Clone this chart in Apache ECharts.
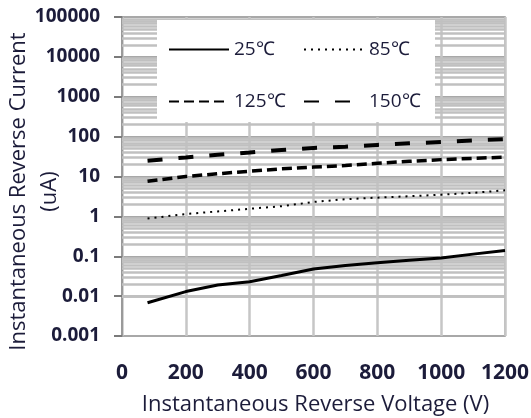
<!DOCTYPE html>
<html>
<head>
<meta charset="utf-8">
<script src="https://cdn.jsdelivr.net/npm/echarts@6/dist/echarts.min.js"></script>
<style>html,body{margin:0;padding:0;background:#fff}#c{width:531px;height:418px}</style>
</head>
<body>
<div id="c"></div>
<script>
const voltages = [80, 200, 300, 400, 500, 600, 700, 800, 900, 1000, 1100, 1200];
const current25 = [0.0068, 0.013, 0.019, 0.023, 0.033, 0.048, 0.059, 0.069, 0.079, 0.090, 0.113, 0.14];
const current85 = [0.88, 1.15, 1.33, 1.55, 1.8, 2.3, 2.7, 2.95, 3.2, 3.5, 3.9, 4.5];
const current125 = [7.6, 10, 11.7, 13.6, 15.6, 17.2, 18.8, 21.5, 24, 26.5, 28.5, 30.5];
const current150 = [25, 30, 35, 40, 46, 52, 56, 62, 68, 73, 80, 87];
const seriesNames = ['25℃', '85℃', '125℃', '150℃'];
const yTickLabels = ['0.001', '0.01', '0.1', '1', '10', '100', '1000', '10000', '100000'];
const xTickLabels = ['0', '200', '400', '600', '800', '1000', '1200'];

// minor log gridlines (2..9 within each decade)
const minorGrid = [];
for (let d = -3; d <= 4; d++) {
  for (let k = 2; k <= 9; k++) minorGrid.push(Number((k * Math.pow(10, d)).toPrecision(3)));
}

const txt = '#1c1c3a';
const font = 'Open Sans';
const pair = arr => voltages.map((v, i) => [v, arr[i]]);
const legendCommon = { orient: 'vertical', top: 38, itemWidth: 60, itemHeight: 14, itemGap: 33, padding: 2,
  itemStyle: { opacity: 0 }, textStyle: { fontFamily: font, fontSize: 19, color: txt } };
const chart = echarts.init(document.getElementById('c'));
chart.setOption({
  animation: false,
  backgroundColor: '#fff',
  grid: { left: 122, right: 26, top: 17, bottom: 82, show: true, borderColor: '#bdbdbd', borderWidth: 2, backgroundColor: '#fff', outerBoundsMode: 'none', containLabel: false },
  graphic: { z: 3, elements: [{ type: 'rect', z: 3, shape: { x: 157, y: 20, width: 278, height: 102 }, style: { fill: '#fff' } }] },
  legend: [
    Object.assign({ data: [seriesNames[0], seriesNames[2]], left: 166 }, legendCommon),
    Object.assign({ data: [seriesNames[1], seriesNames[3]], left: 301 }, legendCommon)
  ],
  xAxis: {
    type: 'value', min: 0, max: 1200, interval: 200,
    name: 'Instantaneous Reverse Voltage (V)', nameLocation: 'middle', nameGap: 58, nameMoveOverlap: false,
    nameTextStyle: { fontFamily: font, fontSize: 22, color: txt, padding: [0, 0, 0, 4] },
    axisLine: { show: false }, axisTick: { show: false },
    axisLabel: { margin: 27, fontFamily: font, fontWeight: 'bold', fontSize: 21, color: txt,
      formatter: (v) => xTickLabels[Math.round(v / 200)] },
    splitLine: { show: true, lineStyle: { color: '#c6c6c6', width: 2.5 } }
  },
  yAxis: {
    type: 'log', logBase: 10, min: 0.001, max: 100000,
    name: 'Instantaneous Reverse Current\n(uA)', nameLocation: 'middle', nameGap: 57, nameRotate: 90, nameMoveOverlap: false,
    nameTextStyle: { fontFamily: font, fontSize: 22, color: txt, lineHeight: 31, padding: [0, 30, 0, 0] },
    axisLine: { show: true, lineStyle: { color: '#9a9a9a', width: 2 } },
    axisTick: { show: true, length: 8, lineStyle: { color: '#7a7a7a', width: 2 } },
    axisLabel: { margin: 22, fontFamily: font, fontWeight: 'bold', fontSize: 19, color: txt,
      formatter: (v) => yTickLabels[Math.round(Math.log10(v)) + 3] },
    splitLine: { show: true, lineStyle: { color: '#a8a8a8', width: 2 } },
    minorTick: { show: false },
    minorSplitLine: { show: false }
  },
  series: [
    { name: 'minor-grid', type: 'line', data: [], silent: true, z: 1,
      markLine: { z: 1, silent: true, symbol: 'none', label: { show: false }, emphasis: { disabled: true },
        lineStyle: { color: '#c0c0c0', width: 2.5, type: 'solid' },
        data: minorGrid.map(v => ({ yAxis: v })) } },
    { name: seriesNames[0], type: 'line', symbol: 'none', data: pair(current25), lineStyle: { color: '#000', width: 3, type: 'solid' }, itemStyle: { color: '#000' } },
    { name: seriesNames[1], type: 'line', symbol: 'none', data: pair(current85), lineStyle: { color: '#000', width: 2, type: [2, 5] }, itemStyle: { color: '#000' } },
    { name: seriesNames[2], type: 'line', symbol: 'none', data: pair(current125), lineStyle: { color: '#000', width: 3.5, type: [10, 5] }, itemStyle: { color: '#000' } },
    { name: seriesNames[3], type: 'line', symbol: 'none', data: pair(current150), lineStyle: { color: '#000', width: 4, type: [15, 16] }, itemStyle: { color: '#000' } }
  ]
});
</script>
</body>
</html>
